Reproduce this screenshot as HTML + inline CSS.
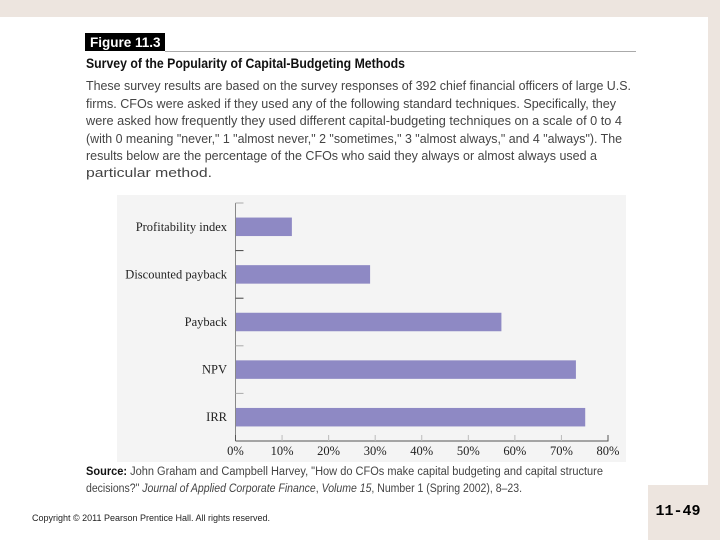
<!DOCTYPE html>
<html><head><meta charset="utf-8"><style>
html,body{margin:0;padding:0;width:720px;height:540px;overflow:hidden;background:#fff}
svg{display:block}
.b{font-family:"Liberation Sans",sans-serif;font-size:13px;fill:#444}
.s{font-family:"Liberation Serif",serif;font-size:12.5px;fill:#222}
</style></head><body>
<svg id="page" width="720" height="540">
<rect x="0" y="0" width="720" height="17" fill="#ede5df"/>
<rect x="708" y="0" width="12" height="540" fill="#ede5df"/>
<rect x="648" y="485" width="72" height="55" fill="#ede5df"/>
<text x="678" y="515" text-anchor="middle" font-family="Liberation Mono,monospace" font-weight="bold" font-size="15" fill="#000">11-49</text>
<rect x="85" y="33" width="80" height="18" fill="#000"/>
<text x="90" y="47" font-family="Liberation Sans,sans-serif" font-weight="bold" font-size="13.5" fill="#fff">Figure 11.3</text>
<line x1="165" y1="51.5" x2="636" y2="51.5" stroke="#aaa" stroke-width="1"/>
<text x="86" y="68" font-family="Liberation Sans,sans-serif" font-weight="bold" font-size="14" fill="#111" textLength="319" lengthAdjust="spacingAndGlyphs">Survey of the Popularity of Capital-Budgeting Methods</text>
<g>
<text class="b" x="86" y="90" textLength="545" lengthAdjust="spacingAndGlyphs">These survey results are based on the survey responses of 392 chief financial officers of large U.S.</text>
<text class="b" x="86" y="108" textLength="530" lengthAdjust="spacingAndGlyphs">firms. CFOs were asked if they used any of the following standard techniques. Specifically, they</text>
<text class="b" x="86" y="125" textLength="536" lengthAdjust="spacingAndGlyphs">were asked how frequently they used different capital-budgeting techniques on a scale of 0 to 4</text>
<text class="b" x="86" y="143" textLength="536" lengthAdjust="spacingAndGlyphs">(with 0 meaning "never," 1 "almost never," 2 "sometimes," 3 "almost always," and 4 "always"). The</text>
<text class="b" x="86" y="160" textLength="511" lengthAdjust="spacingAndGlyphs">results below are the percentage of the CFOs who said they always or almost always used a</text>
<text class="b" x="86" y="177" textLength="126" lengthAdjust="spacingAndGlyphs">particular method.</text>
</g>
<rect x="117" y="195" width="509" height="267" fill="#f4f4f4"/>
<g id="chart"></g>
<g>
<text x="86" y="475" font-family="Liberation Sans,sans-serif" font-size="11.5" fill="#444" textLength="517" lengthAdjust="spacingAndGlyphs"><tspan font-weight="bold" fill="#111">Source:</tspan> John Graham and Campbell Harvey, "How do CFOs make capital budgeting and capital structure</text>
<text x="86" y="492" font-family="Liberation Sans,sans-serif" font-size="11.5" fill="#444" textLength="436" lengthAdjust="spacingAndGlyphs">decisions?" <tspan font-style="italic">Journal of Applied Corporate Finance</tspan>, <tspan font-style="italic">Volume 15</tspan>, Number 1 (Spring 2002), 8–23.</text>
</g>
<text x="32" y="521" font-family="Liberation Sans,sans-serif" font-size="9" fill="#222" textLength="238" lengthAdjust="spacingAndGlyphs">Copyright © 2011 Pearson Prentice Hall. All rights reserved.</text>
</svg>
<script>
const categories = ["Profitability index","Discounted payback","Payback","NPV","IRR"];
const values = [12, 28.8, 57, 73, 75];
const xTicks = [0,10,20,30,40,50,60,70,80];
const xTickLabels = ["0%","10%","20%","30%","40%","50%","60%","70%","80%"];

const NS="http://www.w3.org/2000/svg";
const g=document.getElementById('chart');
const x0=235.5, x1=608, xMax=80, yTop=203, yBot=441;
const band=(yBot-yTop)/categories.length;
const xs=v=>x0+(x1-x0)*v/xMax;
const yc=i=>yTop+band*(i+0.5);
function mk(t,a){const e=document.createElementNS(NS,t);for(const k in a)e.setAttribute(k,a[k]);g.appendChild(e);return e;}
let e;
e=mk('line',{x1:x0,y1:yTop,x2:x0,y2:yBot,stroke:'#888','stroke-width':1});


e=mk('line',{x1:x0,y1:yBot,x2:x1+0.5,y2:yBot,stroke:'#555','stroke-width':1});


for(let i=0;i<categories.length;i++){
  const yb=yTop+band*i;
  e=mk('line',{x1:x0,y1:yb,x2:x0+8,y2:yb,stroke:i==0||i==3||i==4?'#aaa':'#444','stroke-width':1});
  
  
  const h=18.5;
  e=mk('rect',{x:x0+0.5,y:yc(i)-h/2,width:xs(values[i])-x0,height:h,fill:'#8e89c4'});
  
  
  e=mk('text',{x:227,y:yc(i)+4,'text-anchor':'end',class:'s'});
  e.textContent=categories[i];
  
  
}
xTicks.forEach((t,i)=>{
  const x=xs(t);
  e=mk('line',{x1:x,y1:yBot-6,x2:x,y2:yBot,stroke:i==0||i==8?'#555':'#bbb','stroke-width':1});
  
  
  e=mk('text',{x:x,y:yBot+14,'text-anchor':'middle',class:'s'});
  e.textContent=xTickLabels[i];
  
  
});
</script>
</body></html>
